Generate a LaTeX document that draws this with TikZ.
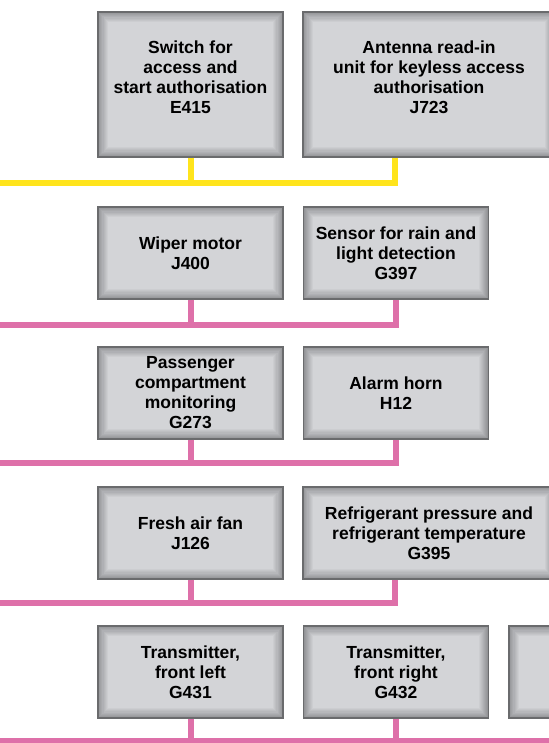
\documentclass[tikz,border=0pt]{standalone}
\usepackage{fontspec}
\newfontfamily\boxfont{Liberation Sans}
\usetikzlibrary{calc}

\definecolor{boxface}{HTML}{D3D4D7}
\definecolor{boxedge}{HTML}{8C8D90}
\definecolor{boxline}{HTML}{6A6B6D}
\definecolor{busyellow}{HTML}{FFE41C}
\definecolor{buspink}{HTML}{DE70A9}

\begin{document}
\begin{tikzpicture}[x=1bp,y=-1bp,
    ecu/.style={rectangle, draw=boxline, line width=1.2bp, fill=boxedge,
      minimum width=185bp, minimum height=92bp, inner sep=0pt, align=center,
      font=\boxfont\bfseries\fontsize{17.5bp}{20bp}\selectfont,
      path picture={% bevelled face, dark rim to light centre
        \foreach \i [evaluate=\i as \pct using int(10+\i*10)] in {0,...,9}{
          \fill[boxface!\pct!boxedge]
            ([shift={(\i*1.1bp,\i*1.1bp)}]path picture bounding box.south west)
            rectangle ([shift={(-\i*1.1bp,-\i*1.1bp)}]path picture bounding box.north east);}}},
    wide/.style={minimum width=252bp},
    tall/.style={minimum height=145bp},
    bus/.style={line width=6bp, draw=#1}]
    \useasboundingbox (0,0) rectangle (549,743);
    \clip (0,0) rectangle (549,743);
    % control units, row by row
    \node[ecu, tall] (e415) at (190.5,84.5)
        {Switch for\\access and\\start authorisation\\E415\\[-5bp]\mbox{}};
    \node[ecu, tall, wide] (j723) at (429,84.5)
        {Antenna read-in\\unit for keyless access\\authorisation\\J723\\[-5bp]\mbox{}};
    \node[ecu] (j400) at (190.5,253) {Wiper motor\\J400};
    \node[ecu] (g397) at (396,253) {Sensor for rain and\\light detection\\G397};
    \node[ecu] (g273) at (190.5,393) {Passenger\\compartment\\monitoring\\G273};
    \node[ecu] (h12) at (396,393) {Alarm horn\\H12};
    \node[ecu] (j126) at (190.5,533) {Fresh air fan\\J126};
    \node[ecu, wide] (g395) at (429,533)
        {Refrigerant pressure and\\refrigerant temperature\\G395};
    \node[ecu] (g431) at (190.5,672) {Transmitter,\\front left\\G431};
    \node[ecu] (g432) at (396,672) {Transmitter,\\front right\\G432};
    \node[ecu] (tx3) at (601.5,672) {Transmitter,\\[20bp]\mbox{}};
    % bus lines
    \coordinate (bus1) at (0,183);
    \draw[bus=busyellow] (bus1) -| ([xshift=93bp]j723.south west);
    \draw[bus=busyellow] (e415) -- (e415 |- bus1);
    \coordinate (bus2) at (0,325);
    \draw[bus=buspink] (bus2) -| (g397);
    \draw[bus=buspink] (j400) -- (j400 |- bus2);
    \coordinate (bus3) at (0,463);
    \draw[bus=buspink] (bus3) -| (h12);
    \draw[bus=buspink] (g273) -- (g273 |- bus3);
    \coordinate (bus4) at (0,603);
    \draw[bus=buspink] (bus4) -| ([xshift=93bp]g395.south west);
    \draw[bus=buspink] (j126) -- (j126 |- bus4);
    \coordinate (bus5) at (0,741);
    \coordinate (bus5end) at (549,741);
    \draw[bus=buspink] (bus5) -- (bus5end);
    \draw[bus=buspink] (g431) -- (g431 |- bus5);
    \draw[bus=buspink] (g432) -- (g432 |- bus5);
\end{tikzpicture}
\end{document}
